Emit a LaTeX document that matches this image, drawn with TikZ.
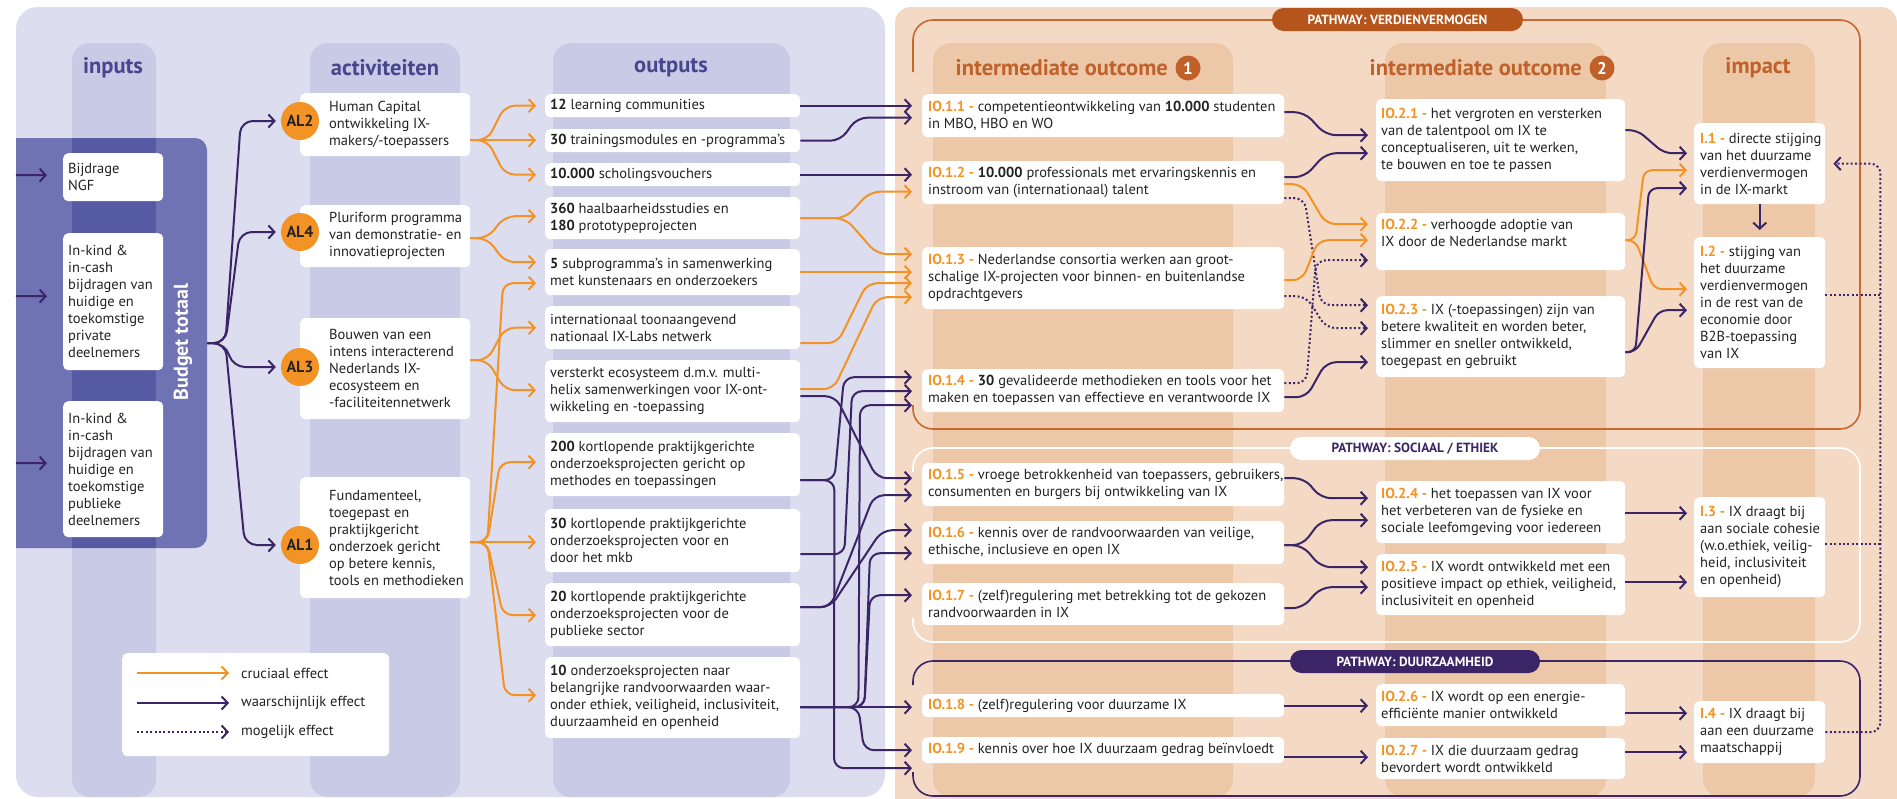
\documentclass[tikz,border=0pt]{standalone}
\usepackage{fontspec}
\setmainfont{PT Sans}
\usetikzlibrary{arrows.meta,calc}
\definecolor{corange}{HTML}{F39325}
\definecolor{cpurple}{HTML}{3B2566}
\definecolor{cpanelL}{HTML}{DCDDEF}
\definecolor{cbandL}{HTML}{C9CAE6}
\definecolor{cbudget}{HTML}{7073B3}
\definecolor{cbudgetD}{HTML}{565AA2}
\definecolor{cpanelO}{HTML}{F4DAC5}
\definecolor{cbandO}{HTML}{ECC8A8}
\definecolor{chdrL}{HTML}{47468E}
\definecolor{chdrO}{HTML}{C0612A}
\definecolor{cframeO}{HTML}{C8682F}
\definecolor{cpillO}{HTML}{B5541B}
\definecolor{ctext}{HTML}{222222}
\newcommand\iolab[1]{\textcolor{corange}{\bfseries #1}}
\begin{document}
\begin{tikzpicture}[x=1pt,y=-1pt,
  conn/.style={line width=2pt, line join=round, rounded corners=10pt, -{Straight Barb[length=6pt,width=13pt]}},
  co/.style={conn, draw=corange},
  cp/.style={conn, draw=cpurple},
  cd/.style={conn, draw=cpurple, dash pattern=on 2pt off 2.4pt},
  dotline/.style={line width=2pt, draw=cpurple, dash pattern=on 2pt off 2.4pt},
  wbox/.style={fill=white, rounded corners=5pt, anchor=north west, inner sep=0pt},
  txt/.style={anchor=west, align=left, inner sep=0pt, text=ctext, font=\fontsize{14.5}{17}\selectfont},
  hdrL/.style={text=chdrL, font=\fontsize{22.5}{26}\selectfont\bfseries},
  hdrO/.style={text=chdrO, font=\fontsize{22.5}{26}\selectfont\bfseries},
  numc/.style={circle, fill=chdrO, text=white, minimum size=25pt, inner sep=0pt, font=\fontsize{17}{17}\selectfont\bfseries},
  alc/.style={circle, fill=corange, text=ctext, minimum size=38pt, inner sep=0pt, font=\fontsize{16}{16}\selectfont\bfseries},
  pill/.style={rounded corners=11.5pt, minimum width=250pt, minimum height=23pt, inner sep=0pt, font=\fontsize{13.3}{15}\selectfont\bfseries},
  pathframe/.style={line width=1.6pt, rounded corners=20pt},
]
\useasboundingbox (0,0) rectangle (1897,798);

% ---------- panels and column bands ----------
\fill[cpanelL, rounded corners=22pt] (16,7) rectangle (885,797);
\fill[cpanelO, rounded corners=16pt] (895,7) rectangle (1897,830);
\fill[cbandL, rounded corners=18pt] (72,43) rectangle (156,797);
\fill[cbandL, rounded corners=18pt] (310,43) rectangle (460,797);
\fill[cbandL, rounded corners=18pt] (553,43) rectangle (790,797);
\fill[cbandO, rounded corners=18pt] (933,43) rectangle (1233,797);
\fill[cbandO, rounded corners=18pt] (1385,43) rectangle (1606,797);
\fill[cbandO, rounded corners=18pt] (1703,43) rectangle (1815,797);

% ---------- budget block ----------
\begin{scope}
  \clip (16,0) rectangle (1897,798);
  \fill[cbudget, rounded corners=12pt] (0,138) rectangle (207,548);
\end{scope}
\fill[cbudgetD] (72,138) rectangle (156,548);
\node[inner sep=0pt, minimum width=191pt, minimum height=410pt, anchor=north west] (budget) at (16,138) {};
\node[rotate=90, text=white, font=\fontsize{20}{24}\selectfont\bfseries] (btxt) at (183,342) {Budget totaal};

% ---------- pathway frames ----------
\draw[pathframe, draw=cframeO] (913,72) -- (913,20) -- (1860,20) -- (1860,429) -- (913,429) -- (913,405);
\draw[pathframe, draw=white] (913,472) -- (913,448) -- (1860,448) -- (1860,642) -- (913,642) -- (913,618);
\draw[pathframe, draw=cpurple] (913,685) -- (913,661) -- (1860,661) -- (1860,796) -- (913,796) -- (913,772);

% ---------- boxes ----------
% inputs
\node[wbox, minimum width=100pt, minimum height=48pt] (in1) at (63,153) {};
\node[txt] (in1t) at ($(in1.west)+(5,0)$) {Bijdrage\\NGF};
\node[wbox, minimum width=100pt, minimum height=137pt] (in2) at (63,233) {};
\node[txt] (in2t) at ($(in2.west)+(5,0)$) {In-kind \&\\in-cash\\bijdragen van\\huidige en\\toekomstige\\private\\deelnemers};
\node[wbox, minimum width=100pt, minimum height=136pt] (in3) at (63,401) {};
\node[txt] (in3t) at ($(in3.west)+(5,0)$) {In-kind \&\\in-cash\\bijdragen van\\huidige en\\toekomstige\\publieke\\deelnemers};

% activities
\node[wbox, minimum width=170pt, minimum height=63pt] (a2) at (300,93) {};
\node[txt] (a2t) at ($(a2.west)+(29,0)$) {Human Capital\\ontwikkeling IX-\\makers/-toepassers};
\node[wbox, minimum width=170pt, minimum height=62pt] (a4) at (300,205) {};
\node[txt] (a4t) at ($(a4.west)+(29,0)$) {Pluriform programma\\van demonstratie- en\\innovatieprojecten};
\node[wbox, minimum width=170pt, minimum height=101pt] (a3) at (300,318) {};
\node[txt] (a3t) at ($(a3.west)+(29,0)$) {Bouwen van een\\intens interacterend\\Nederlands IX-\\ecosysteem en\\-faciliteitennetwerk};
\node[wbox, minimum width=170pt, minimum height=121pt] (a1) at (300,477) {};
\node[txt] (a1t) at ($(a1.west)+(29,0)$) {Fundamenteel,\\toegepast en\\praktijkgericht\\onderzoek gericht\\op betere kennis,\\tools en methodieken};

% outputs
\node[wbox, minimum width=255pt, minimum height=23pt] (o1) at (545,94) {};
\node[txt] (o1t) at ($(o1.west)+(5,0)$) {\textbf{12} learning communities};
\node[wbox, minimum width=255pt, minimum height=23pt] (o2) at (545,129) {};
\node[txt] (o2t) at ($(o2.west)+(5,0)$) {\textbf{30} trainingsmodules en -programma's};
\node[wbox, minimum width=255pt, minimum height=23pt] (o3) at (545,163) {};
\node[txt] (o3t) at ($(o3.west)+(5,0)$) {\textbf{10.000} scholingsvouchers};
\node[wbox, minimum width=255pt, minimum height=42pt] (o4) at (545,197) {};
\node[txt] (o4t) at ($(o4.west)+(5,0)$) {\textbf{360} haalbaarheidsstudies en\\\textbf{180} prototypeprojecten};
\node[wbox, minimum width=255pt, minimum height=46pt] (o5) at (545,249) {};
\node[txt] (o5t) at ($(o5.west)+(5,0)$) {\textbf{5} subprogramma's in samenwerking\\met kunstenaars en onderzoekers};
\node[wbox, minimum width=255pt, minimum height=43pt] (o6) at (545,306) {};
\node[txt] (o6t) at ($(o6.west)+(5,0)$) {internationaal toonaangevend\\nationaal IX-Labs netwerk};
\node[wbox, minimum width=255pt, minimum height=62pt] (o7) at (545,360) {};
\node[txt] (o7t) at ($(o7.west)+(5,0)$) {versterkt ecosysteem d.m.v. multi-\\helix samenwerkingen voor IX-ont-\\wikkeling en -toepassing};
\node[wbox, minimum width=255pt, minimum height=63pt] (o8) at (545,433) {};
\node[txt] (o8t) at ($(o8.west)+(5,0)$) {\textbf{200} kortlopende praktijkgerichte\\onderzoeksprojecten gericht op\\methodes en toepassingen};
\node[wbox, minimum width=255pt, minimum height=63pt] (o9) at (545,509) {};
\node[txt] (o9t) at ($(o9.west)+(5,0)$) {\textbf{30} kortlopende praktijkgerichte\\onderzoeksprojecten voor en\\door het mkb};
\node[wbox, minimum width=255pt, minimum height=63pt] (o10) at (545,583) {};
\node[txt] (o10t) at ($(o10.west)+(5,0)$) {\textbf{20} kortlopende praktijkgerichte\\onderzoeksprojecten voor de\\publieke sector};
\node[wbox, minimum width=255pt, minimum height=81pt] (o11) at (545,657) {};
\node[txt] (o11t) at ($(o11.west)+(5,0)$) {\textbf{10} onderzoeksprojecten naar\\belangrijke randvoorwaarden waar-\\onder ethiek, veiligheid, inclusiviteit,\\duurzaamheid en openheid};

% intermediate outcome 1
\node[wbox, minimum width=362pt, minimum height=43pt] (io11) at (922,94) {};
\node[txt] (io11t) at ($(io11.west)+(6,0)$) {\iolab{IO.1.1 -} competentieontwikkeling van \textbf{10.000} studenten\\in MBO, HBO en WO};
\node[wbox, minimum width=362pt, minimum height=43pt] (io12) at (922,161) {};
\node[txt] (io12t) at ($(io12.west)+(6,0)$) {\iolab{IO.1.2 -} \textbf{10.000} professionals met ervaringskennis en\\instroom van (internationaal) talent};
\node[wbox, minimum width=362pt, minimum height=62pt] (io13) at (922,247) {};
\node[txt] (io13t) at ($(io13.west)+(6,0)$) {\iolab{IO.1.3 -} Nederlandse consortia werken aan groot-\\schalige IX-projecten voor binnen- en buitenlandse\\opdrachtgevers};
\node[wbox, minimum width=362pt, minimum height=43pt] (io14) at (922,369) {};
\node[txt] (io14t) at ($(io14.west)+(6,0)$) {\iolab{IO.1.4 -} \textbf{30} gevalideerde methodieken en tools voor het\\maken en toepassen van effectieve en verantwoorde IX};
\node[wbox, minimum width=362pt, minimum height=43pt] (io15) at (922,463) {};
\node[txt] (io15t) at ($(io15.west)+(6,0)$) {\iolab{IO.1.5 -} vroege betrokkenheid van toepassers, gebruikers,\\consumenten en burgers bij ontwikkeling van IX};
\node[wbox, minimum width=362pt, minimum height=43pt] (io16) at (922,521) {};
\node[txt] (io16t) at ($(io16.west)+(6,0)$) {\iolab{IO.1.6 -} kennis over de randvoorwaarden van veilige,\\ethische, inclusieve en open IX};
\node[wbox, minimum width=362pt, minimum height=42pt] (io17) at (922,583) {};
\node[txt] (io17t) at ($(io17.west)+(6,0)$) {\iolab{IO.1.7 -} (zelf)regulering met betrekking tot de gekozen\\randvoorwaarden in IX};
\node[wbox, minimum width=362pt, minimum height=23pt] (io18) at (922,694) {};
\node[txt] (io18t) at ($(io18.west)+(6,0)$) {\iolab{IO.1.8 -} (zelf)regulering voor duurzame IX};
\node[wbox, minimum width=362pt, minimum height=26pt] (io19) at (922,737) {};
\node[txt] (io19t) at ($(io19.west)+(6,0)$) {\iolab{IO.1.9 -} kennis over hoe IX duurzaam gedrag beïnvloedt};

% intermediate outcome 2
\node[wbox, minimum width=249pt, minimum height=82pt] (io21) at (1376,99) {};
\node[txt] (io21t) at ($(io21.west)+(5,0)$) {\iolab{IO.2.1 -} het vergroten en versterken\\van de talentpool om IX te\\conceptualiseren, uit te werken,\\te bouwen en toe te passen};
\node[wbox, minimum width=249pt, minimum height=57pt] (io22) at (1376,213) {};
\node[txt] (io22t) at ($(io22.west)+(5,0)$) {\iolab{IO.2.2 -} verhoogde adoptie van\\IX door de Nederlandse markt\\\mbox{}};
\node[wbox, minimum width=249pt, minimum height=81pt] (io23) at (1376,296) {};
\node[txt] (io23t) at ($(io23.west)+(5,0)$) {\iolab{IO.2.3 -} IX (-toepassingen) zijn van\\betere kwaliteit en worden beter,\\slimmer en sneller ontwikkeld,\\toegepast en gebruikt};
\node[wbox, minimum width=249pt, minimum height=62pt] (io24) at (1376,481) {};
\node[txt] (io24t) at ($(io24.west)+(5,0)$) {\iolab{IO.2.4 -} het toepassen van IX voor\\het verbeteren van de fysieke en\\sociale leefomgeving voor iedereen};
\node[wbox, minimum width=249pt, minimum height=61pt] (io25) at (1376,554) {};
\node[txt] (io25t) at ($(io25.west)+(5,0)$) {\iolab{IO.2.5 -} IX wordt ontwikkeld met een\\positieve impact op ethiek, veiligheid,\\inclusiviteit en openheid};
\node[wbox, minimum width=249pt, minimum height=42pt] (io26) at (1376,684) {};
\node[txt] (io26t) at ($(io26.west)+(5,0)$) {\iolab{IO.2.6 -} IX wordt op een energie-\\efficiënte manier ontwikkeld};
\node[wbox, minimum width=249pt, minimum height=41pt] (io27) at (1376,738) {};
\node[txt] (io27t) at ($(io27.west)+(5,0)$) {\iolab{IO.2.7 -} IX die duurzaam gedrag\\bevordert wordt ontwikkeld};

% impact
\node[wbox, minimum width=131pt, minimum height=81pt] (i1) at (1694,123) {};
\node[txt] (i1t) at ($(i1.west)+(6,0)$) {\iolab{I.1 -} directe stijging\\van het duurzame\\verdienvermogen\\in de IX-markt};
\node[wbox, minimum width=131pt, minimum height=131pt] (i2) at (1694,237) {};
\node[txt] (i2t) at ($(i2.west)+(6,0)$) {\iolab{I.2 -} stijging van\\het duurzame\\verdienvermogen\\in de rest van de\\economie door\\B2B-toepassing\\van IX};
\node[wbox, minimum width=131pt, minimum height=100pt] (i3) at (1694,497) {};
\node[txt] (i3t) at ($(i3.west)+(6,0)$) {\iolab{I.3 -} IX draagt bij\\aan sociale cohesie\\(w.o.ethiek, veilig-\\heid, inclusiviteit\\en openheid)};
\node[wbox, minimum width=131pt, minimum height=62pt] (i4) at (1694,701) {};
\node[txt] (i4t) at ($(i4.west)+(6,0)$) {\iolab{I.4 -} IX draagt bij\\aan een duurzame\\maatschappij};

% legend
\node[wbox, minimum width=267pt, minimum height=103pt] (leg) at (122,653) {};
\node[txt] (leg1) at ($(leg.north west)+(119,20)$) {cruciaal effect};
\node[txt] (leg2) at ($(leg.north west)+(119,50)$) {waarschijnlijk effect};
\node[txt] (leg3) at ($(leg.north west)+(119,79)$) {mogelijk effect};
\draw[co] ($(leg.north west)+(15,20)$) -- ($(leg1.west)+(-12,0)$);
\draw[cp] ($(leg.north west)+(15,50)$) -- ($(leg2.west)+(-12,0)$);
\draw[cd] ($(leg.north west)+(15,79)$) -- ($(leg3.west)+(-12,0)$);

% ---------- connectors ----------
% funding into inputs
\coordinate (s1) at (16,175);
\coordinate (s2) at (16,296);
\coordinate (s3) at (16,463);
\draw[cp] (s1) -- ($(in1.west)+(-16,-2)$);
\draw[cp] (s2) -- ($(in2.west)+(-16,-5.5)$);
\draw[cp] (s3) -- ($(in3.west)+(-16,-6)$);

% activity circles
\node[alc] (c2) at (300,121) {AL2};
\node[alc] (c4) at (300,232) {AL4};
\node[alc] (c3) at (300,367) {AL3};
\node[alc] (c1) at (300,545) {AL1};

% budget to activities
\draw[cp, rounded corners=12pt] (budget.east) -- ++(18,0) -- ($(c2.west)+(-40,0)$) -- ($(c2.west)+(-5,0)$);
\draw[cp, rounded corners=12pt] (budget.east) -- ++(18,0) -- ($(c4.west)+(-41,0)$) -- ($(c4.west)+(-5,0)$);
\draw[cp, rounded corners=12pt] (budget.east) -- ++(18,0) -- ($(c3.west)+(-48,0)$) -- ($(c3.west)+(-5,0)$);
\draw[cp, rounded corners=12pt] (budget.east) -- ++(18,0) -- ($(c1.west)+(-36,0)$) -- ($(c1.west)+(-5,0)$);

% activities to outputs
\draw[co] ($(a2.east)+(0,15.5)$) -- ++(17,0) -- ($(o1.west)+(-40,0)$) -- ($(o1.west)+(-9,0)$);
\draw[co] ($(a2.east)+(0,15.5)$) -- ($(o2.west)+(-9,-0.5)$);
\draw[co] ($(a2.east)+(0,15.5)$) -- ++(17,0) -- ($(o3.west)+(-40,0)$) -- ($(o3.west)+(-9,0)$);
\draw[co] ($(a4.east)+(0,2)$) -- ++(17,0) -- ($(o4.west)+(-40,-2)$) -- ($(o4.west)+(-9,-2)$);
\draw[co] ($(a4.east)+(0,2)$) -- ++(17,0) -- ($(o5.west)+(-40,-10)$) -- ($(o5.west)+(-9,-10)$);
\draw[co] ($(a3.east)+(0,-8.5)$) -- ++(17,0) -- ($(o6.west)+(-40,0)$) -- ($(o6.west)+(-9,0)$);
\draw[co] ($(a3.east)+(0,-8.5)$) -- ++(17,0) -- ($(o7.west)+(-40,-1)$) -- ($(o7.west)+(-9,-1)$);
\draw[co] ($(a1.east)+(0,4.5)$) -- ++(17,0) -- ($(o5.west)+(-42,11)$) -- ($(o5.west)+(-9,11)$);
\draw[co] ($(a1.east)+(0,4.5)$) -- ++(17,0) -- ($(o8.west)+(-45,-2.5)$) -- ($(o8.west)+(-9,-2.5)$);
\draw[co] ($(a1.east)+(0,4.5)$) -- ($(o9.west)+(-9,1.5)$);
\draw[co] ($(a1.east)+(0,4.5)$) -- ++(17,0) -- ($(o10.west)+(-42,0.5)$) -- ($(o10.west)+(-9,0.5)$);
\draw[co] ($(a1.east)+(0,4.5)$) -- ++(17,0) -- ($(o11.west)+(-40,-2.5)$) -- ($(o11.west)+(-9,-2.5)$);

% outputs to intermediate outcome 1
\draw[cp] (o1.east) -- ($(io11.west)+(-10,-10)$);
\draw[cp] (o2.east) -- ++(40,0) -- ($(io11.west)+(-65,2)$) -- ($(io11.west)+(-10,2)$);
\draw[cp] (o3.east) -- ($(io12.west)+(-10,-8)$);
\draw[co] (o4.east) -- ++(45,0) -- ($(io12.west)+(-52,9)$) -- ($(io12.west)+(-10,9)$);
\draw[co] (o4.east) -- ++(45,0) -- ($(io13.west)+(-45,-24)$) -- ($(io13.west)+(-10,-24)$);
\draw[co] (o5.east) -- ($(io13.west)+(-10,-6)$);
\draw[co] ($(o6.east)+(0,15.5)$) -- ++(37,0) -- ($(io13.west)+(-55,5)$) -- ($(io13.west)+(-10,5)$);
\draw[co] ($(o7.east)+(0,-2)$) -- ++(33,0) -- ($(io13.west)+(-45,19)$) -- ($(io13.west)+(-10,19)$);
\draw[cp] ($(o7.east)+(0,5)$) -- ++(35,0) -- ($(io15.west)+(-45,-6.5)$) -- ($(io15.west)+(-10,-6.5)$);
\draw[cp] ($(o8.east)+(0,15.5)$) -- ++(34,0) -- ($(io14.west)+(-78,-13.5)$) -- ($(io14.west)+(-10,-13.5)$);
\draw[cp] ($(o8.east)+(0,15.5)$) -- ++(34,0) -- ($(io19.west)+(-88,18)$) -- ($(io19.west)+(-10,18)$);
\draw[cp] ($(o9.east)+(0,13.5)$) -- ++(44,0) -- ($(io14.west)+(-70,0.5)$) -- ($(io14.west)+(-10,0.5)$);
\draw[cp] ($(o10.east)+(0,-7.5)$) -- ++(30,0) -- ($(io15.west)+(-48,10.5)$) -- ($(io15.west)+(-10,10.5)$);
\draw[cp] ($(o10.east)+(0,-7.5)$) -- ++(30,0) -- ($(io16.west)+(-40,-12.5)$) -- ($(io16.west)+(-10,-12.5)$);
\draw[cp] ($(o11.east)+(0,9.5)$) -- ($(io18.west)+(-10,1.5)$);
\draw[cp] ($(o11.east)+(0,9.5)$) -- ++(58,0) -- ($(io14.west)+(-62,14.5)$) -- ($(io14.west)+(-10,14.5)$);
\draw[cp] ($(o11.east)+(0,9.5)$) -- ++(58,0) -- ($(io19.west)+(-58,0)$) -- ($(io19.west)+(-10,0)$);
\draw[cp] ($(o11.east)+(0,9.5)$) -- ++(64,0) -- ($(io16.west)+(-52,10.5)$) -- ($(io16.west)+(-10,10.5)$);
\draw[cp] ($(o11.east)+(0,9.5)$) -- ++(64,0) -- ($(io17.west)+(-52,-9)$) -- ($(io17.west)+(-10,-9)$);

% intermediate outcome 1 to intermediate outcome 2
\draw[cp] ($(io11.east)+(0,-3.5)$) -- ++(20,0) -- ($(io21.west)+(-50,-5)$) -- ($(io21.west)+(-8,-5)$);
\draw[cp] ($(io12.east)+(0,-5.5)$) -- ++(20,0) -- ($(io21.west)+(-50,13)$) -- ($(io21.west)+(-8,13)$);
\draw[co] ($(io12.east)+(0,1.5)$) -- ++(18,0) -- ($(io22.west)+(-50,-17.5)$) -- ($(io22.west)+(-8,-17.5)$);
\draw[cd] ($(io12.east)+(0,15.5)$) -- ++(20,0) -- ($(io23.west)+(-55,-31.5)$) -- ($(io23.west)+(-8,-31.5)$);
\draw[co] ($(io13.east)+(0,2)$) -- ++(18,0) -- ($(io22.west)+(-58,-1.5)$) -- ($(io22.west)+(-8,-1.5)$);
\draw[cd] ($(io13.east)+(0,18)$) -- ++(22,0) -- ($(io23.west)+(-50,-8.5)$) -- ($(io23.west)+(-8,-8.5)$);
\draw[cd] ($(io14.east)+(0,-7.5)$) -- ++(22,0) -- ($(io22.west)+(-60,18.5)$) -- ($(io22.west)+(-8,18.5)$);
\draw[cp] ($(io14.east)+(0,6.5)$) -- ++(22,0) -- ($(io23.west)+(-50,25.5)$) -- ($(io23.west)+(-8,25.5)$);
\draw[cp] ($(io15.east)+(0,-6.5)$) -- ++(20,0) -- ($(io24.west)+(-55,-14)$) -- ($(io24.west)+(-8,-14)$);
\draw[cp] ($(io16.east)+(0,2.5)$) -- ++(18,0) -- ($(io24.west)+(-55,8)$) -- ($(io24.west)+(-8,8)$);
\draw[cp] ($(io16.east)+(0,2.5)$) -- ++(18,0) -- ($(io25.west)+(-55,-17.5)$) -- ($(io25.west)+(-8,-17.5)$);
\draw[cp] ($(io17.east)+(0,4)$) -- ++(18,0) -- ($(io25.west)+(-55,2.5)$) -- ($(io25.west)+(-8,2.5)$);
\draw[cp] (io18.east) -- ($(io26.west)+(-8,0.5)$);
\draw[cp] ($(io19.east)+(0,7)$) -- ($(io27.west)+(-8,-1.5)$);

% intermediate outcome 2 to impact
\draw[cp, rounded corners=8pt] ($(io21.east)+(0,-10)$) -- ++(12,0) -- ($(i1.west)+(-30,-10.5)$) -- ($(i1.west)+(-7,-10.5)$);
\draw[co, rounded corners=8pt] ($(io22.east)+(0,-1.5)$) -- ++(10,0) -- ($(i1.west)+(-50,6.5)$) -- ($(i1.west)+(-7,6.5)$);
\draw[co, rounded corners=8pt] ($(io22.east)+(0,-1.5)$) -- ++(10,0) -- ($(i2.west)+(-40,-13.5)$) -- ($(i2.west)+(-7,-13.5)$);
\draw[cp, rounded corners=8pt] ($(io23.east)+(0,15.5)$) -- ++(10,0) -- ($(i1.west)+(-45,24.5)$) -- ($(i1.west)+(-7,24.5)$);
\draw[cp, rounded corners=8pt] ($(io23.east)+(0,15.5)$) -- ++(10,0) -- ($(i2.west)+(-35,7.5)$) -- ($(i2.west)+(-7,7.5)$);
\draw[cp] (i1.south) -- ($(i2.north)+(0,-7)$);
\draw[cp] ($(io24.east)+(0,1)$) -- ($(i3.west)+(-7,-34)$);
\draw[cp] ($(io25.east)+(0,-2.5)$) -- ($(i3.west)+(-7,35)$);
\draw[cp] ($(io26.east)+(0,8)$) -- ($(i4.west)+(-7,-19)$);
\draw[cp] ($(io27.east)+(0,-6.5)$) -- ($(i4.west)+(-7,20)$);

% feedback of impacts
\draw[cd] (i4.east) -- ++(55,0) -- ($(i1.east)+(55,0)$) -- ($(i1.east)+(8,0)$);
\draw[dotline] ($(i2.east)+(0,-7.5)$) -- ++(55,0);
\draw[dotline] ($(i3.east)+(0,-3)$) -- ++(55,0);

% ---------- headers ----------
\node[hdrL] (h1) at (113,68) {inputs};
\node[hdrL] (h2) at (385,68) {activiteiten};
\node[hdrL] (h3) at (671,68) {outputs};
\node[numc] (n1) at (1188,68) {1};
\node[hdrO, anchor=east] (h4) at ($(n1.west)+(-4,0)$) {intermediate outcome};
\node[numc] (n2) at (1602,68) {2};
\node[hdrO, anchor=east] (h5) at ($(n2.west)+(-4,0)$) {intermediate outcome};
\node[hdrO] (h6) at (1758,68) {impact};

% ---------- pathway labels ----------
\node[pill, fill=cpillO, text=white, minimum width=251pt] (p1) at (1397.5,19.5) {PATHWAY: VERDIENVERMOGEN};
\node[pill, fill=white, text=cpurple] (p2) at (1415,448.5) {PATHWAY: SOCIAAL / ETHIEK};
\node[pill, fill=cpurple, text=white] (p3) at (1415,661.5) {PATHWAY: DUURZAAMHEID};
\end{tikzpicture}
\end{document}
